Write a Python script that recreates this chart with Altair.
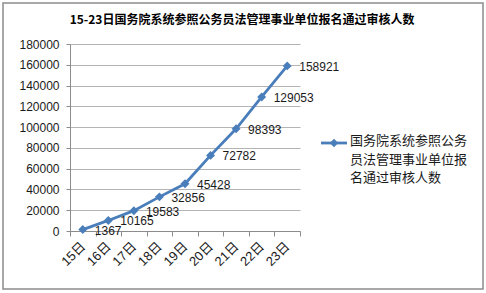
import altair as alt
import pandas as pd

days = ["15日", "16日", "17日", "18日", "19日", "20日", "21日", "22日", "23日"]
values = [1367, 10165, 19583, 32856, 45428, 72782, 98393, 129053, 158921]
series_name = "国务院系统参照公务员法管理事业单位报名通过审核人数"
legend_lines = "国务院系统参照公务\n员法管理事业单位报\n名通过审核人数"
title = "15-23日国务院系统参照公务员法管理事业单位报名通过审核人数"
y_ticks = list(range(0, 180001, 20000))

FONT = "Liberation Sans, Noto Sans CJK SC, sans-serif"
BLUE = "#4a7ebb"
GRID = "#b4b4b4"
AXIS = "#8c8c8c"

df = pd.DataFrame({"day": days, "value": values})

x = alt.X("day:N", sort=days,
          scale=alt.Scale(type="band", paddingInner=0, paddingOuter=0),
          axis=alt.Axis(title=None, tickBand="extent", labelAngle=-45,
                        labelAlign="right", labelBaseline="middle",
                        labelPadding=8, tickSize=5, tickColor=AXIS,
                        domainColor=AXIS, grid=False, labelFontSize=13,
                        labelFont=FONT, labelColor="#1a1a1a"))
y = alt.Y("value:Q",
          scale=alt.Scale(domain=[0, 180000], nice=False),
          axis=alt.Axis(title=None, values=y_ticks, tickSize=4, tickColor=AXIS,
                        domainColor=AXIS, gridColor=GRID, labelPadding=7,
                        labelFontSize=12, labelFont=FONT, labelColor="#1a1a1a",
                        format="d"))

base = alt.Chart(df).encode(x=x, y=y)
line = base.mark_line(color=BLUE, strokeWidth=2.8)
pts = base.mark_point(shape="diamond", filled=True, size=80, color=BLUE, opacity=1)
labels = base.mark_text(align="left", baseline="middle", dx=12, dy=1,
                        fontSize=12, font=FONT, color="#1a1a1a").encode(
    text=alt.Text("value:Q", format="d"))

leg_df = pd.DataFrame({"name": [series_name], "lines": [legend_lines], "title": [title]})
leg_line = alt.Chart(leg_df).mark_rule(color=BLUE, strokeWidth=2.8).encode(
    x=alt.value(251), x2=alt.value(277), y=alt.value(99))
leg_pt = alt.Chart(leg_df).mark_point(shape="diamond", filled=True, size=72,
                                      color=BLUE, opacity=1).encode(
    x=alt.value(264), y=alt.value(99))
leg_txt = alt.Chart(leg_df).mark_text(align="left", baseline="top", lineBreak="\n",
                                      lineHeight=18.5, fontSize=13, font=FONT,
                                      color="#1a1a1a").encode(
    x=alt.value(280), y=alt.value(91), text="lines:N")

title_txt = alt.Chart(leg_df).mark_text(align="center", baseline="middle",
                                        fontSize=12, font="Noto Sans CJK SC",
                                        fontWeight="bold", color="#000").encode(
    x=alt.value(172), y=alt.value(-24), text="title:N")

border = alt.Chart(leg_df).mark_rect(fill="transparent", stroke="#8c8c8c",
                                     strokeWidth=1.5).encode(
    x=alt.value(-67), x2=alt.value(413), y=alt.value(-41), y2=alt.value(245))

chart = alt.layer(border, line, pts, labels, leg_line, leg_pt, leg_txt, title_txt).properties(
    width=230, height=187,
    autosize=alt.AutoSizeParams(type="none"),
    padding={"left": 70, "top": 44, "right": 186, "bottom": 62},
    background="white",
).configure_view(stroke=None)

chart.save("out.html", embed_options={"renderer": "svg", "actions": False})
